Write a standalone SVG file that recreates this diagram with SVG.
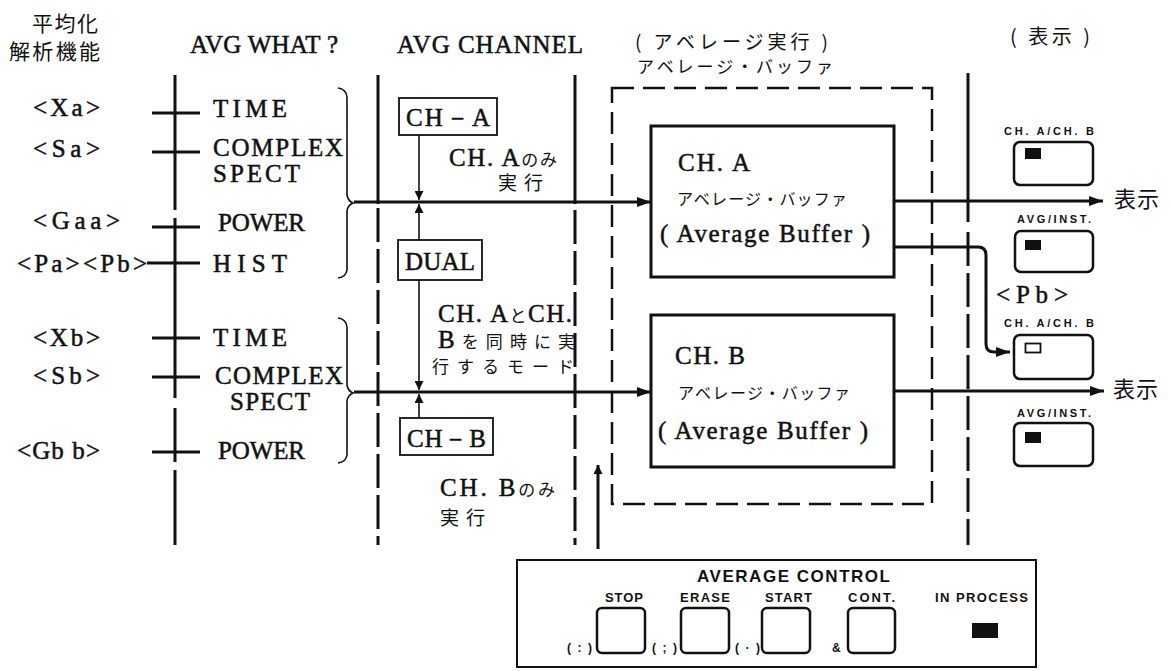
<svg xmlns="http://www.w3.org/2000/svg" width="1172" height="671" viewBox="0 0 1172 671">
<defs>
<style>
.sf{font-family:"Liberation Serif","Noto Serif",serif;font-size:25px;fill:#111;stroke:#111;stroke-width:0.5}
.jp{font-family:"Noto Sans CJK JP",sans-serif;fill:#111}
.sb{font-family:"Liberation Sans",Arial,sans-serif;font-weight:bold;fill:#111}
.ln{stroke:#111;stroke-width:3;fill:none}
.dl{stroke:#111;stroke-width:3;fill:none;stroke-dasharray:34 7}
.thin{stroke:#111;stroke-width:1.6;fill:none}
.box{stroke:#111;stroke-width:3;fill:#fff}
.sbox{stroke:#111;stroke-width:1.8;fill:#fff}
.btn{stroke:#111;stroke-width:2.5;fill:#fff}
</style>
<marker id="ah" viewBox="0 0 14 10" refX="14" refY="5" markerWidth="14" markerHeight="10" markerUnits="userSpaceOnUse" orient="auto"><path d="M0,0 L14,5 L0,10 z" fill="#111"/></marker>
<marker id="ahs" viewBox="0 0 10 10" refX="10" refY="5" markerWidth="10" markerHeight="9" markerUnits="userSpaceOnUse" orient="auto"><path d="M0,0 L10,5 L0,10 z" fill="#111"/></marker>
</defs>
<rect width="1172" height="671" fill="#fff"/>

<g id="headers">
<text class="jp" x="32" y="31" font-size="21" textLength="66">平均化</text>
<text class="jp" x="9" y="59" font-size="21" textLength="91">解析機能</text>
<text class="sf" x="190" y="53" textLength="148">AVG WHAT ?</text>
<text class="sf" x="397" y="53" textLength="186">AVG  CHANNEL</text>
<text class="jp" x="635" y="49" font-size="19" textLength="193">( アベレージ実行 )</text>
<text class="jp" x="637" y="73" font-size="17" textLength="196">アベレージ・バッファ</text>
<text class="jp" x="1010" y="44" font-size="20" textLength="80">( 表示 )</text>
</g>

<g id="column-lines">
<path class="ln" d="M175,75 V210 M175,218 V398 M175,408 V462 M175,470 V545"/>
<path class="ln" d="M378,75 V204"/>
<path class="dl" d="M378,208 V545"/>
<path class="ln" d="M575,75 V204"/>
<path class="dl" d="M575,210 V545"/>
<path class="ln" d="M968,73 V222"/>
<path class="dl" d="M968,232 V545"/>
</g>

<g id="ticks">
<path class="ln" d="M152,113 H200 M152,152 H200 M152,227 H200 M147,263 H200 M152,338 H200 M152,377 H200 M152,452 H200"/>
</g>

<g id="function-labels">
<text class="sf" x="33" y="116" textLength="67">&lt;Xa&gt;</text>
<text class="sf" x="33" y="157" textLength="67">&lt;Sa&gt;</text>
<text class="sf" x="33" y="229" textLength="87">&lt;Gaa&gt;</text>
<text class="sf" x="17" y="272" textLength="130">&lt;Pa&gt;&lt;Pb&gt;</text>
<text class="sf" x="33" y="346" textLength="67">&lt;Xb&gt;</text>
<text class="sf" x="33" y="384" textLength="67">&lt;Sb&gt;</text>
<text class="sf" x="17" y="459" textLength="83">&lt;Gb b&gt;</text>
</g>

<g id="what-labels">
<text class="sf" x="213" y="117" textLength="74">TIME</text>
<text class="sf" x="213" y="156" font-size="22" textLength="130">COMPLEX</text>
<text class="sf" x="213" y="182" font-size="22" textLength="87">SPECT</text>
<text class="sf" x="218" y="231" textLength="87">POWER</text>
<text class="sf" x="213" y="272" textLength="74">HIST</text>
<text class="sf" x="213" y="346" textLength="74">TIME</text>
<text class="sf" x="215" y="384" font-size="22" textLength="128">COMPLEX</text>
<text class="sf" x="230" y="410" font-size="22" textLength="80">SPECT</text>
<text class="sf" x="218" y="459" textLength="87">POWER</text>
</g>

<g id="braces">
<path class="thin" stroke-width="2" d="M338,88 Q346,89 347,97 L347,195 Q348,201 353,203 Q348,205 347,211 L347,270 Q346,277 338,278"/>
<path class="thin" stroke-width="2" d="M338,318 Q346,319 347,327 L347,385 Q348,391 353,393 Q348,395 347,401 L347,455 Q346,462 338,463"/>
</g>

<g id="ch-a">
<rect class="sbox" x="399" y="98" width="98" height="37"/>
<text class="sf" x="406" y="126" textLength="84">CH－A</text>
</g>
<g id="dual">
<rect class="sbox" x="398" y="240" width="84" height="40"/>
<text class="sf" x="405" y="270" textLength="70">DUAL</text>
</g>
<g id="ch-b">
<rect class="sbox" x="400" y="418" width="93" height="37"/>
<text class="sf" x="407" y="447" textLength="79">CH－B</text>
</g>

<g id="channel-notes">
<text x="449" y="166" textLength="108"><tspan class="sf" font-size="22">CH. A</tspan><tspan class="jp" font-size="17">のみ</tspan></text>
<text class="jp" x="498" y="190" font-size="19" textLength="45">実行</text>
<text x="438" y="322" textLength="134"><tspan class="sf" font-size="20">CH. A</tspan><tspan class="jp" font-size="17">と</tspan><tspan class="sf" font-size="20">CH.</tspan></text>
<text x="438" y="348" textLength="137"><tspan class="sf" font-size="20">B</tspan><tspan class="jp" font-size="17">を同時に実</tspan></text>
<text class="jp" x="432" y="373" font-size="17" textLength="142">行するモード</text>
<text x="440" y="496" textLength="115"><tspan class="sf" font-size="22">CH. B</tspan><tspan class="jp" font-size="17">のみ</tspan></text>
<text class="jp" x="440" y="525" font-size="19" textLength="45">実行</text>
</g>

<g id="buffer-frame">
<rect x="612" y="88" width="320" height="416" fill="none" stroke="#111" stroke-width="2.5" stroke-dasharray="22 9"/>
</g>

<g id="buffer-a">
<rect class="box" x="651" y="126" width="243" height="151"/>
<text class="sf" x="678" y="171" textLength="72">CH. A</text>
<text class="jp" x="677" y="205" font-size="16" textLength="170">アベレージ・バッファ</text>
<text class="sf" x="660" y="242" textLength="210">( Average Buffer )</text>
</g>
<g id="buffer-b">
<rect class="box" x="651" y="315" width="243" height="152"/>
<text class="sf" x="675" y="364" textLength="70">CH. B</text>
<text class="jp" x="678" y="399" font-size="16" textLength="172">アベレージ・バッファ</text>
<text class="sf" x="658" y="439" textLength="210">( Average Buffer )</text>
</g>

<g id="display-a">
<text class="sb" x="1004" y="135" font-size="11" textLength="90">CH. A/CH. B</text>
<rect class="btn" x="1014" y="142" width="79" height="43" rx="6"/>
<rect x="1025" y="148" width="16" height="11" fill="#111"/>
<text class="sb" x="1017" y="223" font-size="11" textLength="74">AVG/INST.</text>
<rect class="btn" x="1015" y="231" width="78" height="41" rx="6"/>
<rect x="1025" y="240" width="16" height="10" fill="#111"/>
<text class="jp" x="1114" y="207" font-size="22" textLength="45">表示</text>
</g>
<g id="display-b">
<text class="sb" x="1004" y="327" font-size="11" textLength="90">CH. A/CH. B</text>
<rect class="btn" x="1014" y="335" width="79" height="44" rx="6"/>
<rect x="1025.5" y="343.5" width="15" height="9" fill="#fff" stroke="#111" stroke-width="1.8"/>
<text class="sb" x="1017" y="417" font-size="11" textLength="74">AVG/INST.</text>
<rect class="btn" x="1014" y="423" width="79" height="43" rx="6"/>
<rect x="1025" y="432" width="16" height="11" fill="#111"/>
<text class="jp" x="1113" y="397" font-size="22" textLength="45">表示</text>
</g>
<g id="pb-label">
<text class="sf" x="996" y="303" textLength="72">&lt;Pb&gt;</text>
</g>

<g id="avg-control">
<rect x="517" y="560" width="519" height="107" fill="#fff" stroke="#111" stroke-width="2"/>
<text class="sb" x="697" y="582" font-size="17" textLength="193">AVERAGE  CONTROL</text>
<text class="sb" x="605" y="602" font-size="13" textLength="38">STOP</text>
<text class="sb" x="680" y="602" font-size="13" textLength="50">ERASE</text>
<text class="sb" x="765" y="602" font-size="13" textLength="47">START</text>
<text class="sb" x="848" y="602" font-size="13" textLength="47">CONT.</text>
<text class="sb" x="935" y="602" font-size="13" textLength="93">IN PROCESS</text>
<rect class="btn" x="597" y="608" width="48" height="45" rx="5"/>
<rect class="btn" x="681" y="608" width="48" height="45" rx="5"/>
<rect class="btn" x="762" y="608" width="48" height="45" rx="5"/>
<rect class="btn" x="848" y="608" width="47" height="45" rx="5"/>
<rect x="972" y="623" width="26" height="15" fill="#111"/>
<text class="sb" x="567" y="652" font-size="12" textLength="25">(:)</text>
<text class="sb" x="652" y="652" font-size="12" textLength="25">(;)</text>
<text class="sb" x="735" y="652" font-size="12" textLength="25">(·)</text>
<text class="sb" x="832" y="652" font-size="12">&amp;</text>
</g>

<g id="connectors">
<line class="ln" x1="354" y1="202" x2="651" y2="202" marker-end="url(#ah)"/>
<line class="ln" x1="354" y1="392" x2="651" y2="392" marker-end="url(#ah)"/>
<line class="ln" x1="894" y1="201" x2="1103" y2="201" marker-end="url(#ah)"/>
<line class="ln" x1="894" y1="391" x2="1104" y2="391" marker-end="url(#ah)"/>
<path class="ln" stroke-width="2.5" d="M894,247 H978 Q986,247 986,255 V344 Q986,352 994,352 H1010" marker-end="url(#ah)"/>
<line class="thin" x1="419" y1="135" x2="419" y2="200" marker-end="url(#ahs)"/>
<line class="thin" x1="419" y1="240" x2="419" y2="204" marker-end="url(#ahs)"/>
<line class="thin" x1="419" y1="280" x2="419" y2="390" marker-end="url(#ahs)"/>
<line class="thin" x1="419" y1="418" x2="419" y2="394" marker-end="url(#ahs)"/>
<line class="ln" stroke-width="2" x1="598" y1="549" x2="598" y2="465" marker-end="url(#ahs)"/>
</g>
</svg>
